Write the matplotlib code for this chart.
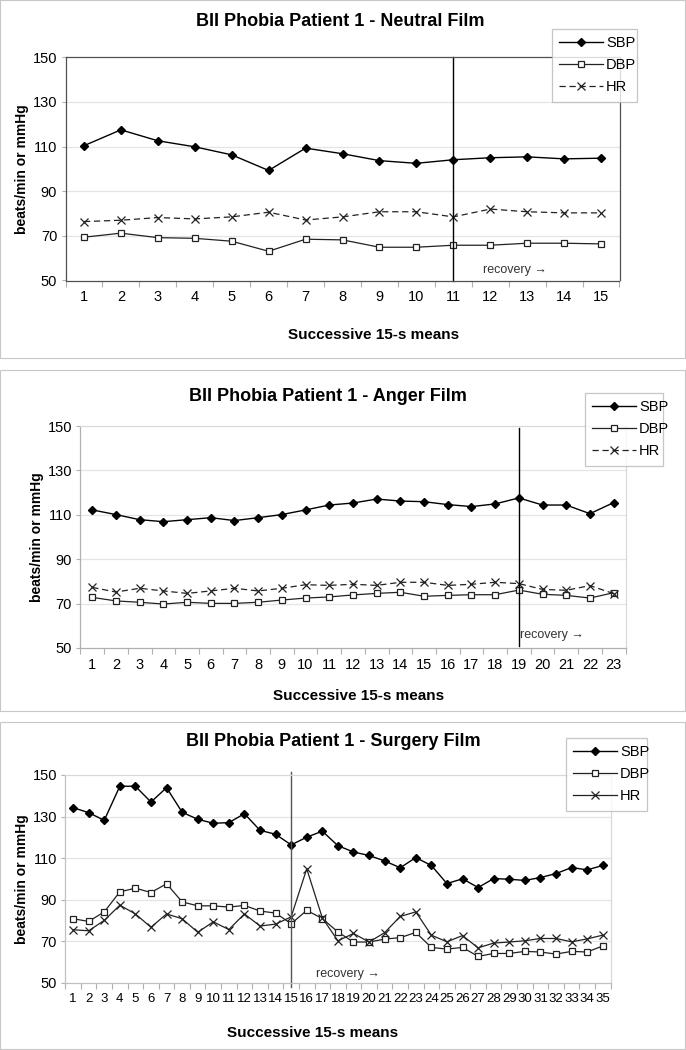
import matplotlib
matplotlib.use("Agg")
import matplotlib.pyplot as plt
from matplotlib.patches import Rectangle

plt.rcParams['font.family'] = ['Liberation Sans', 'DejaVu Sans']

# figure size in pixels
W, H = 686, 1050

# values
neutral_sbp = [110.4, 117.5, 112.6, 109.9, 106.3, 99.3, 109.3, 106.8, 103.7, 102.5,
               104.1, 105.0, 105.4, 104.5, 104.8]
neutral_dbp = [69.4, 71.2, 69.2, 68.9, 67.6, 63.1, 68.5, 68.2, 64.9, 64.9,
               65.8, 65.8, 66.7, 66.7, 66.4]
neutral_hr = [76.4, 77.0, 78.2, 77.6, 78.5, 80.6, 77.1, 78.5, 80.8, 80.8,
              78.5, 82.0, 80.8, 80.3, 80.3]

anger_sbp = [112.2, 110.1, 107.8, 106.9, 107.8, 108.7, 107.4, 108.7, 110.1, 112.2,
             114.4, 115.3, 117.1, 116.2, 115.9, 114.6, 113.7, 114.9, 117.6, 114.4,
             114.4, 110.5, 115.5]
anger_dbp = [72.8, 71.2, 70.6, 69.8, 70.6, 70.1, 70.1, 70.6, 71.6, 72.5,
             73.0, 73.9, 74.6, 75.1, 73.3, 73.7, 74.0, 74.0, 76.1, 74.2,
             73.7, 72.5, 74.9]
anger_hr = [77.3, 75.2, 76.9, 75.7, 74.6, 75.7, 76.9, 75.7, 76.9, 78.5,
            78.2, 78.7, 78.2, 79.6, 79.6, 78.2, 78.7, 79.6, 79.0, 76.4,
            76.0, 78.1, 74.5]

surgery_sbp = [134.3, 131.9, 128.2, 144.6, 144.6, 137.0, 143.9, 132.1, 128.7, 126.8,
               127.1, 131.4, 123.4, 121.5, 116.4, 120.1, 123.0, 116.0, 113.0, 111.3,
               108.7, 105.4, 110.3, 106.5, 97.8, 100.1, 95.9, 100.2, 99.9, 99.3,
               100.7, 102.6, 105.5, 104.4, 106.5]
surgery_dbp = [80.9, 79.6, 84.2, 93.8, 95.6, 93.5, 97.7, 89.0, 87.1, 87.1,
               86.5, 87.3, 84.6, 83.6, 78.5, 84.9, 81.0, 74.5, 69.7, 69.7,
               71.1, 71.8, 74.3, 67.1, 66.3, 67.1, 62.8, 64.2, 64.2, 65.2,
               64.9, 63.9, 65.2, 64.9, 67.8]
surgery_hr = [75.6, 75.1, 80.1, 87.4, 83.2, 76.8, 83.2, 80.9, 74.4, 79.4,
              75.7, 83.2, 77.4, 78.3, 81.8, 104.9, 81.3, 70.3, 73.8, 69.7,
              74.2, 82.0, 84.2, 73.0, 69.8, 72.8, 66.9, 69.2, 69.7, 70.3,
              71.4, 71.4, 69.8, 71.2, 73.0]

titles = ["BII Phobia Patient 1 - Neutral Film",
          "BII Phobia Patient 1 - Anger Film",
          "BII Phobia Patient 1 - Surgery Film"]
recovery_start = [11, 19, 15]
y_ticks = [50, 70, 90, 110, 130, 150]

fig = plt.figure(figsize=(W / 100, H / 100), dpi=100)


def fx(x):
    return x / W


def fy(y):
    return 1 - y / H


def draw_panel(box, plot, title_xy, xlab_xy, ylab_x, sbp, dbp, hr, split,
               split_span, split_col, rec_xy, hr_dashed, leg_box, tick_fs,
               frame_col, left_col):
    # outer chart frame
    bl, bt, br, bb = box
    fig.patches.append(Rectangle((fx(bl), fy(bb)), fx(br - bl), (bb - bt) / H,
                                 transform=fig.transFigure, fill=False,
                                 edgecolor='#c8c8c8', linewidth=0.8))
    l, t, r, b = plot
    ax = fig.add_axes([fx(l), fy(b), fx(r - l), (b - t) / H])
    n = len(sbp)
    x = list(range(1, n + 1))

    for v in y_ticks[1:-1]:
        ax.axhline(v, color='#e4e4e4', linewidth=0.9, zorder=0)

    ax.plot(x, sbp, color='black', linewidth=1.0, marker='D', markersize=4.5,
            markerfacecolor='black', label='SBP')
    ax.plot(x, dbp, color='#222222', linewidth=0.9, marker='s', markersize=5,
            markerfacecolor='white', markeredgecolor='#222222',
            markeredgewidth=0.9, label='DBP')
    ls = (0, (5, 3)) if hr_dashed else '-'
    ax.plot(x, hr, color='#222222', linewidth=0.9, linestyle=ls, marker='x',
            markersize=6, markeredgewidth=0.9, label='HR')

    ax.axvline(split, ymin=split_span[0], ymax=split_span[1], color=split_col,
               linewidth=1.0, clip_on=False)
    ax.text(rec_xy[0], rec_xy[1], 'recovery \u2192', fontsize=9,
            color='#333333', ha='left', va='center')

    ax.set_xlim(0.5, n + 0.5)
    ax.set_ylim(50, 150)
    ax.set_yticks(y_ticks)
    ax.set_xticks([i + 0.5 for i in range(0, n + 1)])
    ax.set_xticklabels([])
    ax.set_xticks(x, minor=True)
    ax.set_xticklabels([str(i) for i in x], minor=True, fontsize=tick_fs)
    ax.tick_params(axis='x', which='major', length=4, color='#b0b0b0',
                   direction='out')
    ax.tick_params(axis='x', which='minor', length=0, pad=7)
    ax.tick_params(axis='y', length=3, color='#b0b0b0', labelsize=10.5, pad=3)
    for s in ['top', 'right']:
        ax.spines[s].set_color(frame_col)
        ax.spines[s].set_linewidth(0.9)
    ax.spines['bottom'].set_color(left_col)
    ax.spines['left'].set_color(left_col)
    ax.spines['bottom'].set_linewidth(0.9)
    ax.spines['left'].set_linewidth(0.9)

    fig.text(fx(title_xy[0]), fy(title_xy[1]), title_xy[2], fontsize=13,
             fontweight='bold', ha='center', va='center')
    fig.text(fx(xlab_xy[0]), fy(xlab_xy[1]), 'Successive 15-s means',
             fontsize=11, fontweight='bold', ha='center', va='center')
    fig.text(fx(ylab_x), fy((t + b) / 2), 'beats/min or mmHg', fontsize=10,
             fontweight='bold', rotation=90, ha='center', va='center')

    ll, lt, lr, lb = leg_box
    leg = ax.legend(loc='upper left',
                    bbox_to_anchor=(fx(ll), fy(lb), fx(lr - ll), (lb - lt) / H),
                    bbox_transform=fig.transFigure, mode='expand',
                    fontsize=10.5, frameon=True, fancybox=False,
                    handlelength=3.0, handletextpad=0.2, labelspacing=0.55,
                    borderpad=0.5, borderaxespad=0)
    leg.get_frame().set_edgecolor('#b8b8b8')
    leg.get_frame().set_linewidth(0.9)
    return ax


draw_panel(box=(0, 0, 685, 358), plot=(65.5, 57.3, 619.5, 280.5),
           title_xy=(340, 22, titles[0]), xlab_xy=(374, 335), ylab_x=22,
           sbp=neutral_sbp, dbp=neutral_dbp, hr=neutral_hr,
           split=recovery_start[0], split_span=(0, 1), split_col='black',
           rec_xy=(11.8, 54.6), hr_dashed=True,
           leg_box=(552, 29, 637, 100), tick_fs=10.5,
           frame_col='#505050', left_col='#505050')

draw_panel(box=(0, 370, 685, 711), plot=(80.4, 426, 625.5, 648),
           title_xy=(328, 397, titles[1]), xlab_xy=(359, 696), ylab_x=37,
           sbp=anger_sbp, dbp=anger_dbp, hr=anger_hr,
           split=recovery_start[1], split_span=(0.01, 0.99), split_col='black',
           rec_xy=(19.05, 55.9), hr_dashed=True,
           leg_box=(585, 393, 663, 463), tick_fs=10.5,
           frame_col='#d8d8d8', left_col='#b0b0b0')

draw_panel(box=(0, 722, 685, 1049), plot=(65.3, 775, 610.5, 983),
           title_xy=(333, 742, titles[2]), xlab_xy=(313, 1033), ylab_x=22,
           sbp=surgery_sbp, dbp=surgery_dbp, hr=surgery_hr,
           split=recovery_start[2], split_span=(-0.02, 1.014), split_col='#555555',
           rec_xy=(16.6, 54.3), hr_dashed=False,
           leg_box=(566, 738, 647, 809), tick_fs=9.5,
           frame_col='#d8d8d8', left_col='#c0c0c0')

fig.savefig('out.png', dpi=100)
